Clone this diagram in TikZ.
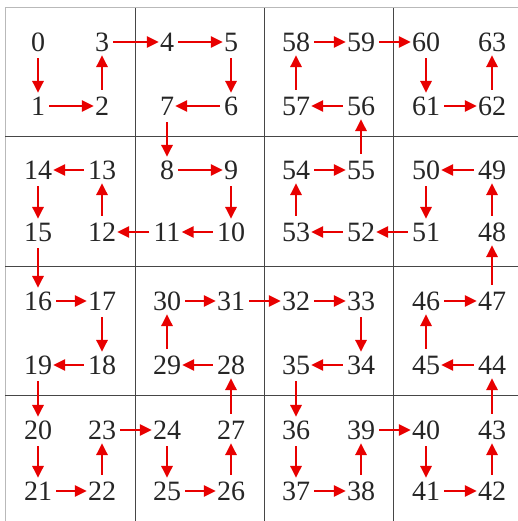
\documentclass[tikz,border=0pt]{standalone}
\usepackage{fontspec}
\setmainfont{Liberation Serif}
\usetikzlibrary{arrows.meta}
\definecolor{arrred}{RGB}{232,0,0}
\definecolor{gridline}{RGB}{70,70,70}
\definecolor{borderline}{RGB}{185,185,185}
\tikzset{
  num/.style={inner xsep=1pt, inner ysep=3.5pt, text height=18.8pt, text depth=0pt,
    font=\fontsize{28}{32}\selectfont, text=black!85},
  flow/.style={draw=arrred, line width=2.8pt, shorten <=3pt,
    -{Triangle[length=12pt,width=11pt]}},
  grid/.style={draw=gridline, line width=1pt},
  frame/.style={draw=borderline, line width=1pt}
}
\begin{document}
\begin{tikzpicture}[x=1pt,y=-1pt]
\useasboundingbox[fill=white] (0,0) rectangle (518,521);
% frame and grid
\draw[frame] (5,521) -- (5,8) -- (518,8);
\foreach \gx in {135,264,393} \draw[grid] (\gx,8) -- (\gx,521);
\foreach \gy in {137,266,395} \draw[grid] (5,\gy) -- (518,\gy);
% numbers
\foreach \n/\c/\r in {0/0/0,1/0/1,2/1/1,3/1/0,4/2/0,5/3/0,6/3/1,7/2/1,8/2/2,9/3/2,
  10/3/3,11/2/3,12/1/3,13/1/2,14/0/2,15/0/3,16/0/4,17/1/4,18/1/5,19/0/5,
  20/0/6,21/0/7,22/1/7,23/1/6,24/2/6,25/2/7,26/3/7,27/3/6,28/3/5,29/2/5,
  30/2/4,31/3/4,32/4/4,33/5/4,34/5/5,35/4/5,36/4/6,37/4/7,38/5/7,39/5/6,
  40/6/6,41/6/7,42/7/7,43/7/6,44/7/5,45/6/5,46/6/4,47/7/4,48/7/3,49/7/2,
  50/6/2,51/6/3,52/5/3,53/4/3,54/4/2,55/5/2,56/5/1,57/4/1,58/4/0,59/5/0,
  60/6/0,61/6/1,62/7/1,63/7/0}{
  \pgfmathsetmacro\xx{{38,102,167,231,296,361,426,492}[\c]}
  \pgfmathsetmacro\yy{{42,106,170,232,301,365,430,491}[\r]}
  \node[num] (n\n) at (\xx,\yy) {\n};
}
% connectors
\foreach \k [evaluate=\k as \j using int(\k+1)] in {0,...,62}
  \draw[flow] (n\k) -- (n\j);
\end{tikzpicture}
\end{document}
